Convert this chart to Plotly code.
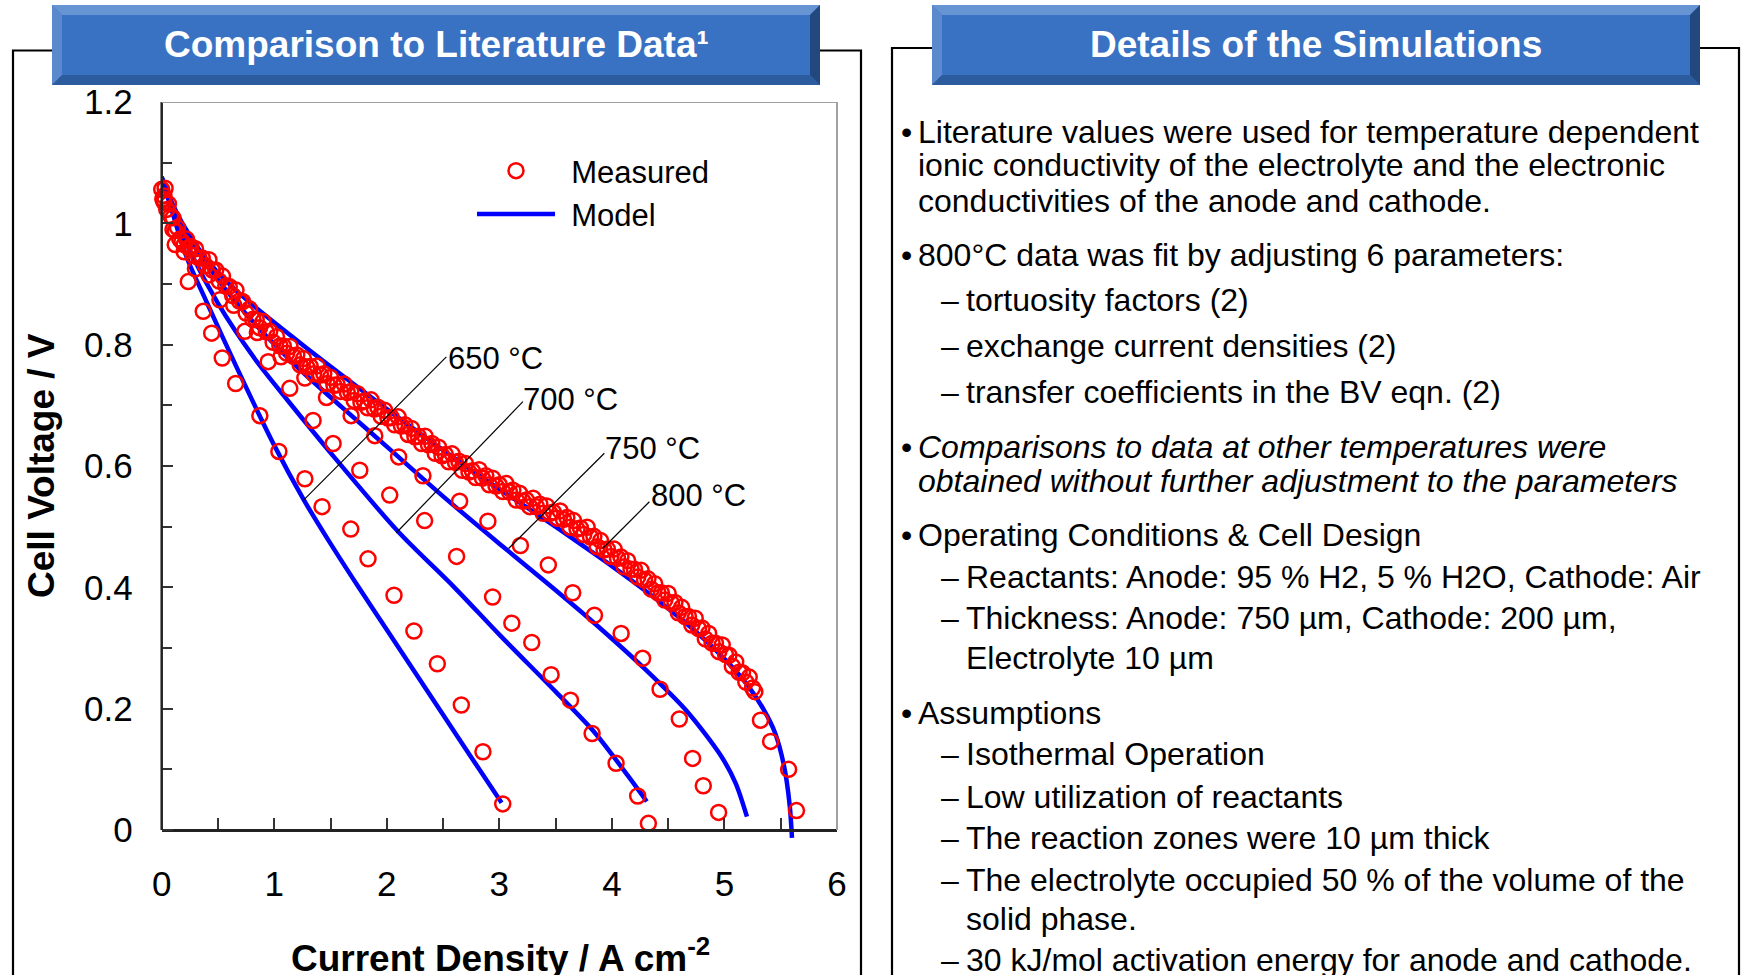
import plotly.graph_objects as go

W, H = 1741, 975

# ---------------- data ----------------
x650 = [0.02, 0.12, 0.236, 0.369, 0.444, 0.538, 0.657, 0.872, 1.041, 1.272, 1.425, 1.680,
        1.833, 2.064, 2.241, 2.449, 2.662, 2.854, 3.030]
v650 = [1.035, 0.965, 0.904, 0.855, 0.819, 0.778, 0.736, 0.683, 0.624, 0.579, 0.533, 0.496,
        0.447, 0.387, 0.328, 0.274, 0.206, 0.129, 0.043]

x700 = [0.01, 0.10, 0.30, 0.517, 0.739, 0.946, 1.138, 1.345, 1.523, 1.760, 2.026, 2.336,
        2.620, 2.940, 3.111, 3.288, 3.460, 3.632, 3.824, 4.037, 4.229, 4.324]
v700 = [1.040, 0.990, 0.925, 0.874, 0.822, 0.772, 0.728, 0.675, 0.637, 0.593, 0.552, 0.510,
        0.451, 0.384, 0.341, 0.309, 0.256, 0.214, 0.159, 0.110, 0.056, 0.011]

x750 = [0.02, 0.20, 0.42, 0.64, 0.85, 1.06, 1.272, 1.464, 1.683, 1.893, 2.105, 2.321, 2.647,
        2.898, 3.187, 3.435, 3.652, 3.845, 4.082, 4.273, 4.428, 4.599, 4.717, 4.812, 4.948]
v750 = [1.045, 0.965, 0.915, 0.865, 0.820, 0.780, 0.745, 0.713, 0.683, 0.650, 0.615, 0.584, 0.542,
        0.509, 0.469, 0.437, 0.391, 0.354, 0.324, 0.283, 0.232, 0.183, 0.118, 0.073, 0.029]

x800 = [0.000, 0.015, 0.030, 0.045, 0.060, 0.080, 0.100, 0.120, 0.140, 0.160, 0.180, 0.200,
        0.22, 0.24, 0.26, 0.28, 0.30, 0.33, 0.36, 0.39, 0.42, 0.45, 0.48, 0.51, 0.54, 0.57,
        0.60, 0.63, 0.66, 0.69, 0.72, 0.75, 0.78, 0.81, 0.84, 0.87, 0.90, 0.93, 0.96, 0.99,
        1.02, 1.05, 1.08, 1.11, 1.14, 1.17, 1.20, 1.23, 1.26, 1.29, 1.32, 1.35, 1.38, 1.41,
        1.44, 1.47, 1.50, 1.53, 1.56, 1.59, 1.62, 1.65, 1.68, 1.71, 1.74, 1.77, 1.80, 1.83,
        1.86, 1.89, 1.92, 1.95, 1.98, 2.01, 2.04, 2.07, 2.10, 2.13, 2.16, 2.19, 2.22, 2.25,
        2.28, 2.31, 2.34, 2.37, 2.40, 2.43, 2.46, 2.49, 2.52, 2.55, 2.58, 2.61, 2.64, 2.67,
        2.70, 2.73, 2.76, 2.79, 2.82, 2.85, 2.88, 2.91, 2.94, 2.97, 3.00, 3.03, 3.06, 3.09,
        3.12, 3.15, 3.18, 3.21, 3.24, 3.27, 3.30, 3.33, 3.36, 3.39, 3.42, 3.45, 3.48, 3.51,
        3.54, 3.57, 3.60, 3.63, 3.66, 3.69, 3.72, 3.75, 3.78, 3.81, 3.84, 3.87, 3.90, 3.93,
        3.96, 3.99, 4.02, 4.05, 4.08, 4.11, 4.14, 4.17, 4.20, 4.23, 4.26, 4.29, 4.32, 4.35,
        4.38, 4.41, 4.44, 4.47, 4.50, 4.53, 4.56, 4.59, 4.62, 4.65, 4.68, 4.71, 4.74, 4.77,
        4.80, 4.83, 4.86, 4.89, 4.92, 4.95, 4.98, 5.01, 5.04, 5.07, 5.10, 5.13, 5.16, 5.19,
        5.22, 5.25, 5.27, 5.32, 5.41, 5.57, 5.64]
v800 = [1.056, 1.039, 1.058, 1.023, 1.032, 1.012, 1.009, 0.988, 0.993, 0.974, 0.970, 0.953,
        0.974, 0.960, 0.962, 0.947, 0.958, 0.943, 0.943, 0.930, 0.940, 0.923, 0.923, 0.905,
        0.913, 0.897, 0.896, 0.881, 0.890, 0.872, 0.871, 0.852, 0.859, 0.842, 0.841, 0.828,
        0.838, 0.821, 0.822, 0.804, 0.813, 0.798, 0.798, 0.786, 0.797, 0.781, 0.783, 0.767,
        0.777, 0.763, 0.764, 0.752, 0.765, 0.750, 0.752, 0.736, 0.746, 0.733, 0.734, 0.723,
        0.735, 0.721, 0.723, 0.708, 0.719, 0.705, 0.707, 0.696, 0.709, 0.694, 0.697, 0.682,
        0.692, 0.679, 0.680, 0.668, 0.681, 0.666, 0.668, 0.652, 0.662, 0.648, 0.649, 0.637,
        0.649, 0.635, 0.637, 0.621, 0.631, 0.617, 0.619, 0.607, 0.620, 0.606, 0.608, 0.593,
        0.604, 0.590, 0.592, 0.581, 0.594, 0.580, 0.584, 0.569, 0.580, 0.567, 0.569, 0.558,
        0.571, 0.557, 0.560, 0.544, 0.555, 0.542, 0.544, 0.533, 0.547, 0.533, 0.537, 0.522,
        0.534, 0.522, 0.524, 0.514, 0.526, 0.512, 0.515, 0.499, 0.510, 0.496, 0.498, 0.487,
        0.499, 0.483, 0.484, 0.467, 0.477, 0.462, 0.463, 0.451, 0.463, 0.448, 0.450, 0.434,
        0.444, 0.430, 0.430, 0.417, 0.428, 0.412, 0.414, 0.397, 0.406, 0.391, 0.391, 0.379,
        0.390, 0.374, 0.375, 0.358, 0.367, 0.352, 0.352, 0.338, 0.349, 0.332, 0.333, 0.315,
        0.324, 0.308, 0.308, 0.294, 0.305, 0.289, 0.288, 0.270, 0.277, 0.260, 0.259, 0.244,
        0.252, 0.234, 0.228, 0.181, 0.146, 0.100, 0.032]

xm650 = [0, 0.10, 0.22, 0.40, 0.66, 1.00, 1.26, 1.50, 1.75, 2.00, 2.25, 2.50, 2.75, 3.02]
vm650 = [1.075, 1.015, 0.945, 0.870, 0.765, 0.634, 0.545, 0.472, 0.400, 0.330, 0.260, 0.190,
         0.120, 0.045]

xm700 = [0, 0.10, 0.25, 0.50, 0.83, 1.12, 1.54, 2.10, 2.60, 3.00, 3.50, 3.85, 4.14, 4.31]
vm700 = [1.075, 1.022, 0.955, 0.868, 0.776, 0.708, 0.613, 0.492, 0.400, 0.322, 0.228, 0.160,
         0.090, 0.047]

xm750 = [0, 0.10, 0.25, 0.53, 0.85, 1.24, 1.60, 2.00, 2.50, 3.00, 3.45, 3.85, 4.29, 4.67, 4.97,
         5.10, 5.20]
vm750 = [1.075, 1.030, 0.975, 0.900, 0.830, 0.757, 0.697, 0.632, 0.550, 0.472, 0.403, 0.340,
         0.266, 0.195, 0.122, 0.077, 0.022]

xm800 = [0, 0.05, 0.10, 0.20, 0.40, 0.60, 0.83, 1.27, 1.72, 2.16, 2.60, 3.00, 3.34, 3.70, 4.00,
         4.30, 4.60, 4.80, 5.00, 5.20, 5.35, 5.45, 5.53, 5.58, 5.60]
vm800 = [1.077, 1.050, 1.030, 0.995, 0.940, 0.900, 0.862, 0.797, 0.733, 0.672, 0.613, 0.562,
         0.520, 0.474, 0.435, 0.394, 0.350, 0.318, 0.282, 0.240, 0.198, 0.160, 0.105, 0.040,
         -0.013]

temp_labels = ["650 °C", "700 °C", "750 °C", "800 °C"]

x_ticks = [0, 1, 2, 3, 4, 5, 6]
y_ticks = [0, 0.2, 0.4, 0.6, 0.8, 1, 1.2]

# ---------------- layout helpers ----------------
FONT = "Liberation Sans, Arial, sans-serif"
RED = "#FF0000"
BLUE = "#0000FF"
AX = "#222222"


def px(x):
    return x / W


def py(y):
    return 1 - y / H


fig = go.Figure()

models = [(xm650, vm650), (xm700, vm700), (xm750, vm750), (xm800, vm800)]
for i, (xs, ys) in enumerate(models):
    fig.add_trace(go.Scatter(
        x=xs, y=ys, mode="lines", line=dict(color=BLUE, width=4.5, shape="spline", smoothing=0.8),
        name="\u00a0\u200aModel", legendgroup="model", showlegend=(i == 0), legendrank=2,
        cliponaxis=False, hoverinfo="skip"))

measured = [(x650, v650), (x700, v700), (x750, v750), (x800, v800)]
for i, (xs, ys) in enumerate(measured):
    fig.add_trace(go.Scatter(
        x=xs, y=ys, mode="markers",
        marker=dict(symbol="circle-open", size=15, color=RED, line=dict(color=RED, width=2.5)),
        name="\u00a0\u200aMeasured", legendgroup="meas", showlegend=(i == 0), legendrank=1,
        cliponaxis=False, hoverinfo="skip"))

# plot area in pixels (y range goes a little below 0 so the 800 °C model can dip under the axis)
PL, PR, PT, PB = 161.7, 837.0, 102.0, 830.0
YMIN = -0.02
PB_EXT = PB + (0 - YMIN) * (PB - PT) / 1.2

fig.update_layout(
    width=W, height=H,
    margin=dict(l=0, r=0, t=0, b=0, autoexpand=False),
    paper_bgcolor="white", plot_bgcolor="white",
    font=dict(family=FONT, color="black"),
    showlegend=True,
    legend=dict(x=px(472), y=py(144), xanchor="left", yanchor="top",
                bgcolor="rgba(0,0,0,0)", font=dict(size=31, family=FONT),
                itemwidth=78, tracegroupgap=0, traceorder="normal"),
    xaxis=dict(domain=[px(PL), px(PR)], range=[0, 6], tickvals=x_ticks, automargin=False,
               anchor="free", position=py(PB),
               ticks="inside", ticklen=11, tickwidth=1.5, tickcolor="#333",
               minor=dict(dtick=0.5, ticks="inside", ticklen=11, tickwidth=1.5, tickcolor="#333"),
               showline=True, linecolor=AX, linewidth=2.5, showgrid=False, zeroline=False,
               tickfont=dict(size=35, family=FONT), ticklabelstandoff=22),
    yaxis=dict(domain=[py(PB_EXT), py(PT)], range=[YMIN, 1.2], tickvals=y_ticks,
               automargin=False,
               ticks="inside", ticklen=11, tickwidth=1.5, tickcolor="#333",
               minor=dict(tick0=0, dtick=0.1, ticks="inside", ticklen=10, tickwidth=1.5,
                          tickcolor="#333"),
               showline=False, showgrid=False, zeroline=False,
               tickfont=dict(size=35, family=FONT), ticklabelstandoff=28),
)

shapes = []
# left axis line, and plot frame (top / right gray)
shapes.append(dict(type="line", xref="x domain", yref="y", x0=0, x1=0, y0=0, y1=1.2,
                   line=dict(color=AX, width=2.5)))
shapes.append(dict(type="line", xref="x domain", yref="y", x0=0, x1=1, y0=1.2, y1=1.2,
                   line=dict(color="#A0A0A0", width=2)))
shapes.append(dict(type="line", xref="x domain", yref="y", x0=1, x1=1, y0=0, y1=1.2,
                   line=dict(color="#A0A0A0", width=2)))

# panel boxes
shapes.append(dict(type="rect", xref="paper", yref="paper", x0=px(13), x1=px(861),
                   y0=-0.1, y1=py(50.5), line=dict(color="black", width=2.2)))
shapes.append(dict(type="rect", xref="paper", yref="paper", x0=px(892), x1=px(1739),
                   y0=-0.1, y1=py(48), line=dict(color="black", width=2.2)))


def poly(pts, color):
    d = "M " + " L ".join(f"{px(a):.5f},{py(b):.5f}" for a, b in pts) + " Z"
    return dict(type="path", xref="paper", yref="paper", path=d, fillcolor=color,
                line=dict(width=0))


def banner(x0, x1, y0, y1, b=10):
    out = [poly([(x0, y0), (x1, y0), (x1, y1), (x0, y1)], "#3A72C3")]
    out.append(poly([(x0, y0), (x1, y0), (x1 - b, y0 + b), (x0 + b, y0 + b)], "#6794D3"))
    out.append(poly([(x0, y0), (x0 + b, y0 + b), (x0 + b, y1 - b), (x0, y1)], "#5B89CE"))
    out.append(poly([(x0, y1), (x0 + b, y1 - b), (x1 - b, y1 - b), (x1, y1)], "#2D5C9E"))
    out.append(poly([(x1, y0), (x1, y1), (x1 - b, y1 - b), (x1 - b, y0 + b)], "#23487F"))
    return out


shapes += banner(52, 820, 5, 85)
shapes += banner(932, 1700, 5, 85)

# leader lines for temperature labels (data coordinates)
lead_x0 = [2.529, 3.209, 3.933, 4.333]
lead_y0 = [0.780, 0.706, 0.621, 0.541]
lead_x1 = [1.256, 2.085, 3.082, 3.918]
lead_y1 = [0.543, 0.490, 0.464, 0.464]
for a, b, c, d in zip(lead_x0, lead_y0, lead_x1, lead_y1):
    shapes.append(dict(type="line", xref="x", yref="y", x0=a, y0=b, x1=c, y1=d,
                       line=dict(color="black", width=1.2)))

fig.update_layout(shapes=shapes)

ann = []
lab_x = [2.529, 3.194, 3.918, 4.333]
lab_y = [0.777, 0.709, 0.629, 0.551]
for t, a, b in zip(temp_labels, lab_x, lab_y):
    ann.append(dict(text=t, x=a, y=b, xref="x", yref="y", xanchor="left", yanchor="middle",
                    showarrow=False, font=dict(size=31, family=FONT, color="black")))

# axis titles
ann.append(dict(text="<b>Current Density / A cm<sup>-2</sup></b>", x=px(500), y=py(955),
                xref="paper", yref="paper", xanchor="center", yanchor="middle", showarrow=False,
                font=dict(size=37, family=FONT, color="black")))
ann.append(dict(text="<b>Cell Voltage / V</b>", x=px(41), y=py(466), xref="paper", yref="paper",
                xanchor="center", yanchor="middle", textangle=-90, showarrow=False,
                font=dict(size=37, family=FONT, color="black")))

# banner titles
ann.append(dict(text="<b>Comparison to Literature Data¹</b>", x=px(436), y=py(44),
                xref="paper", yref="paper", xanchor="center", yanchor="middle", showarrow=False,
                font=dict(size=37, family=FONT, color="white")))
ann.append(dict(text="<b>Details of the Simulations</b>", x=px(1316), y=py(44),
                xref="paper", yref="paper", xanchor="center", yanchor="middle", showarrow=False,
                font=dict(size=37, family=FONT, color="white")))

# right panel text: (kind, text, y)
lines = [
    ("b", "Literature values were used for temperature dependent", 131.5),
    ("c", "ionic conductivity of the electrolyte and the electronic", 165.5),
    ("c", "conductivities of the anode and cathode.", 200.5),
    ("b", "800°C data was fit by adjusting 6 parameters:", 255),
    ("d", "tortuosity factors (2)", 300),
    ("d", "exchange current densities (2)", 345.5),
    ("d", "transfer coefficients in the BV eqn. (2)", 391.5),
    ("bi", "Comparisons to data at other temperatures were", 446.5),
    ("ci", "obtained without further adjustment to the parameters", 481),
    ("b", "Operating Conditions &amp; Cell Design", 535),
    ("d", "Reactants: Anode: 95 % H2, 5 % H2O, Cathode: Air", 576.5),
    ("d", "Thickness: Anode: 750 µm, Cathode: 200 µm,", 618),
    ("e", "Electrolyte 10 µm", 658),
    ("b", "Assumptions", 713),
    ("d", "Isothermal Operation", 754),
    ("d", "Low utilization of reactants", 796.5),
    ("d", "The reaction zones were 10 µm thick", 838),
    ("d", "The electrolyte occupied 50 % of the volume of the", 880),
    ("e", "solid phase.", 919),
    ("d", "30 kJ/mol activation energy for anode and cathode.", 960),
]
TF = dict(size=32, family=FONT, color="black")


def add_text(t, x, y):
    ann.append(dict(text=t, x=px(x), y=py(y), xref="paper", yref="paper", xanchor="left",
                    yanchor="middle", showarrow=False, font=TF))


for kind, t, y in lines:
    if kind in ("b", "bi"):
        add_text("•", 899, y)
        add_text(f"<i>{t}</i>" if kind == "bi" else t, 916, y)
    elif kind in ("c", "ci"):
        add_text(f"<i>{t}</i>" if kind == "ci" else t, 916, y)
    elif kind == "d":
        add_text("–", 939, y)
        add_text(t, 964, y)
    else:
        add_text(t, 964, y)

fig.update_layout(annotations=ann)

fig.write_html("out.html")
